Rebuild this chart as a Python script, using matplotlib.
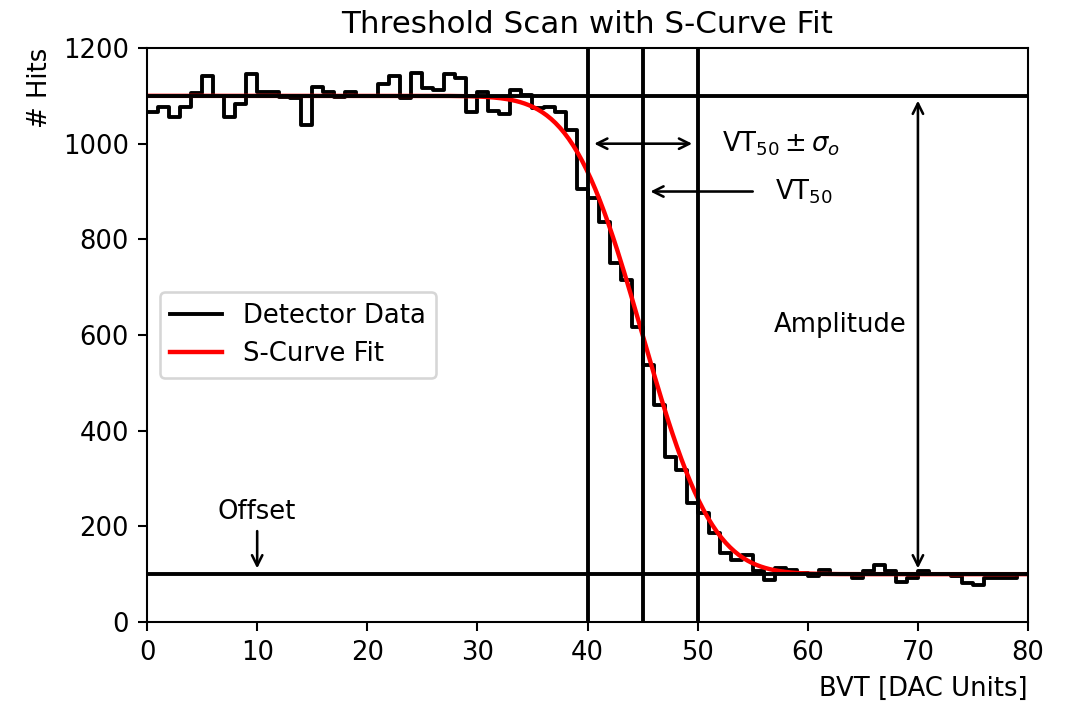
import math
import numpy as np
import matplotlib
matplotlib.use("Agg")
import matplotlib.pyplot as plt

## threshold scan data, one count per DAC step
bvt = list(range(80))
hits = [1067, 1077, 1056, 1077, 1105, 1142, 1100, 1056, 1084, 1145,
        1109, 1108, 1098, 1095, 1039, 1119, 1108, 1098, 1108, 1100,
        1100, 1124, 1142, 1095, 1147, 1117, 1112, 1145, 1138, 1067,
        1109, 1069, 1062, 1112, 1102, 1074, 1076, 1067, 1029, 905,
        886, 837, 751, 715, 617, 537, 454, 346, 318, 248,
        228, 187, 144, 130, 140, 107, 88, 112, 109, 102,
        96, 109, 100, 100, 93, 107, 119, 107, 84, 93,
        107, 100, 100, 96, 82, 77, 93, 93, 93, 95]

## S-curve fit parameters
offset = 100
amplitude = 1000
vt50 = 45
sigma = 5

x_fit = np.linspace(0, 80, 400)
erf = np.vectorize(math.erf)
y_fit = offset + amplitude * 0.5 * (1 - erf((x_fit - vt50) / (math.sqrt(2) * sigma)))

dpi = 186
fig = plt.figure(figsize=(1071 / dpi, 701 / dpi), dpi=dpi)
ax = fig.add_axes([0.1373, 0.1127, 0.8226, 0.8188])

ax.step(bvt, hits, where="post", color="black", label="Detector Data")
ax.plot(x_fit, y_fit, color="red", lw=1.7, label="S-Curve Fit")

## reference lines
ax.axhline(offset + amplitude, color="black")
ax.axhline(offset, color="black")
for xv in [vt50 - sigma, vt50, vt50 + sigma]:
    ax.axvline(xv, color="black")

arr = dict(arrowstyle="<->", color="black", lw=1, shrinkA=0, shrinkB=0,
           mutation_scale=10)
ax.annotate("", xy=(49.5, 1000), xytext=(40.6, 1000), arrowprops=arr)
ax.text(52.2, 1000, r"VT$_{50} \pm \sigma_o$", va="center", ha="left")

ax.annotate("", xy=(45.7, 900), xytext=(55, 900),
            arrowprops=dict(arr, arrowstyle="->"))
ax.text(57, 900, r"VT$_{50}$", va="center", ha="left")

ax.annotate("", xy=(70, 1090), xytext=(70, 112), arrowprops=arr)
ax.text(62.9, 620, "Amplitude", va="center", ha="center")

ax.annotate("", xy=(10, 112), xytext=(10, 190),
            arrowprops=dict(arr, arrowstyle="->"))
ax.text(10, 230, "Offset", va="center", ha="center")

ax.set_xlim(0, 80)
ax.set_ylim(0, 1200)
ax.set_xticks(range(0, 81, 10))
ax.set_yticks(range(0, 1201, 200))
ax.set_title("Threshold Scan with S-Curve Fit")
ax.set_xlabel("BVT [DAC Units]", loc="right")
ax.set_ylabel("# Hits", loc="top")
ax.legend(loc="center left", borderaxespad=0.5)

fig.savefig("out.png", dpi=dpi)
